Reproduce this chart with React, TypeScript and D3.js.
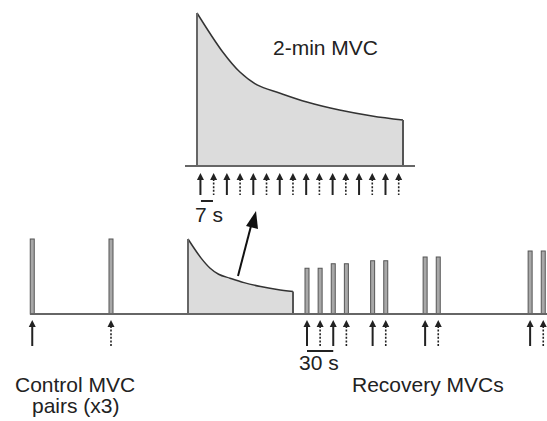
import React from 'react'
import * as d3 from 'd3'

// force decline during the 2-min MVC (% of MVC)
const fatigueTime = [0, 15, 25, 35, 48, 64, 83, 102, 120]
const fatigueForce = [100, 74.5, 61.4, 53, 47.7, 41.8, 36.6, 32.7, 30]

// brief MVCs on the main timeline (s relative to start of 2-min MVC)
const controlTimes = [-178, -88]
const controlForce = [100, 100]
const controlKind = ['solid', 'dashed']
const recoveryTimes = [136, 151, 166, 181, 211, 226, 271, 286, 391, 406]
const recoveryForce = [61, 61, 67, 67, 71, 71, 76, 76, 84, 84]
const recoveryKind = ['solid', 'dashed', 'solid', 'dashed', 'solid', 'dashed', 'solid', 'dashed', 'solid', 'dashed']

// stimulation arrows during the 2-min MVC
const insetArrowTimes = [2, 9.7, 17.4, 25.1, 32.8, 40.5, 48.2, 55.9, 63.6, 71.3, 79, 86.7, 94.4, 102.1, 109.8, 117.5]

const W = 547
const H = 421
const font = 'Liberation Sans, Arial, Helvetica, sans-serif'
const fs = 21

const xMain = d3.scaleLinear().domain([0, 120]).range([188, 293])
const yMain = d3.scaleLinear().domain([0, 100]).range([314, 239])
const xInset = d3.scaleLinear().domain([0, 120]).range([197, 403])
const yInset = d3.scaleLinear().domain([0, 100]).range([166, 13])

const pts = fatigueTime.map((t, i) => [t, fatigueForce[i]] as [number, number])

function Arrow({ x, top, bottom, kind }: { x: number; top: number; bottom: number; kind: string }) {
  const hh = 7
  return (
    <g>
      <line x1={x} x2={x} y1={top + hh - 1} y2={bottom} stroke="#222"
        strokeWidth={kind === 'solid' ? 2 : 1.6}
        strokeDasharray={kind === 'solid' ? undefined : '2,1.6'} />
      <path d={`M${x},${top} L${x - 3.5},${top + hh} L${x + 3.5},${top + hh} Z`} fill="#222" />
    </g>
  )
}

function Bar({ x, y, base }: { x: number; y: number; base: number }) {
  return <rect x={x - 2} y={y} width={4} height={base - y} fill="#a8a8a8" stroke="#555" strokeWidth={1} />
}

export default function App() {
  const curve = d3.curveCatmullRom.alpha(0.5)
  const mkArea = (xs: d3.ScaleLinear<number, number>, ys: d3.ScaleLinear<number, number>) =>
    d3.area<[number, number]>().x(d => xs(d[0])).y0(ys(0)).y1(d => ys(d[1])).curve(curve)(pts) as string
  const mkLine = (xs: d3.ScaleLinear<number, number>, ys: d3.ScaleLinear<number, number>) =>
    d3.line<[number, number]>().x(d => xs(d[0])).y(d => ys(d[1])).curve(curve)(pts) as string

  const last = pts[pts.length - 1]

  return (
    <svg width={W} height={H} style={{ position: 'absolute', left: 0, top: 0, background: '#fff' }}>
      {/* inset: 2-min MVC */}
      <path d={mkArea(xInset, yInset)} fill="#dcdcdc" />
      <path d={mkLine(xInset, yInset)} fill="none" stroke="#333" strokeWidth={1.5} />
      <line x1={xInset(0)} x2={xInset(0)} y1={yInset(0)} y2={yInset(100)} stroke="#666" strokeWidth={2} />
      <line x1={xInset(120)} x2={xInset(120)} y1={yInset(0)} y2={yInset(last[1])} stroke="#555" strokeWidth={2} />
      <line x1={185} x2={415} y1={yInset(0)} y2={yInset(0)} stroke="#666" strokeWidth={2} />
      <text x={273} y={55} fontFamily={font} fontSize={fs} fill="#222">2-min MVC</text>
      {insetArrowTimes.map((t, i) => (
        <Arrow key={i} x={xInset(t)} top={173} bottom={195} kind={i % 2 === 0 ? 'solid' : 'dashed'} />
      ))}
      <line x1={xInset(2.3)} x2={xInset(9.3)} y1={201} y2={201} stroke="#222" strokeWidth={2} />
      <text x={195} y={222} fontFamily={font} fontSize={fs} fill="#222">7 s</text>

      {/* pointer from fatiguing contraction to inset */}
      <line x1={238} y1={276} x2={251} y2={226} stroke="#111" strokeWidth={2} />
      <path d="M256,211 L246,226 L258,229 Z" fill="#111" />

      {/* main timeline */}
      <path d={mkArea(xMain, yMain)} fill="#dcdcdc" />
      <path d={mkLine(xMain, yMain)} fill="none" stroke="#333" strokeWidth={1.5} />
      <line x1={xMain(0)} x2={xMain(0)} y1={yMain(0)} y2={yMain(100)} stroke="#666" strokeWidth={2} />
      <line x1={xMain(120)} x2={xMain(120)} y1={yMain(0)} y2={yMain(last[1])} stroke="#555" strokeWidth={2} />
      {controlTimes.map((t, i) => <Bar key={'c' + i} x={xMain(t)} y={yMain(controlForce[i])} base={yMain(0)} />)}
      {recoveryTimes.map((t, i) => <Bar key={'r' + i} x={xMain(t)} y={yMain(recoveryForce[i])} base={yMain(0)} />)}
      <line x1={30} x2={W} y1={yMain(0)} y2={yMain(0)} stroke="#666" strokeWidth={2} />
      {controlTimes.map((t, i) => <Arrow key={'ca' + i} x={xMain(t)} top={320} bottom={346} kind={controlKind[i]} />)}
      {recoveryTimes.map((t, i) => <Arrow key={'ra' + i} x={xMain(t)} top={320} bottom={346} kind={recoveryKind[i]} />)}
      <line x1={xMain(recoveryTimes[0])} x2={xMain(recoveryTimes[2])} y1={351} y2={351} stroke="#222" strokeWidth={2} />
      <text x={299} y={370} fontFamily={font} fontSize={fs} fill="#222">30 s</text>

      <text x={15} y={392} fontFamily={font} fontSize={fs} fill="#222">Control MVC</text>
      <text x={32} y={413} fontFamily={font} fontSize={fs} fill="#222">pairs (x3)</text>
      <text x={352} y={392} fontFamily={font} fontSize={fs} fill="#222">Recovery MVCs</text>
    </svg>
  )
}
